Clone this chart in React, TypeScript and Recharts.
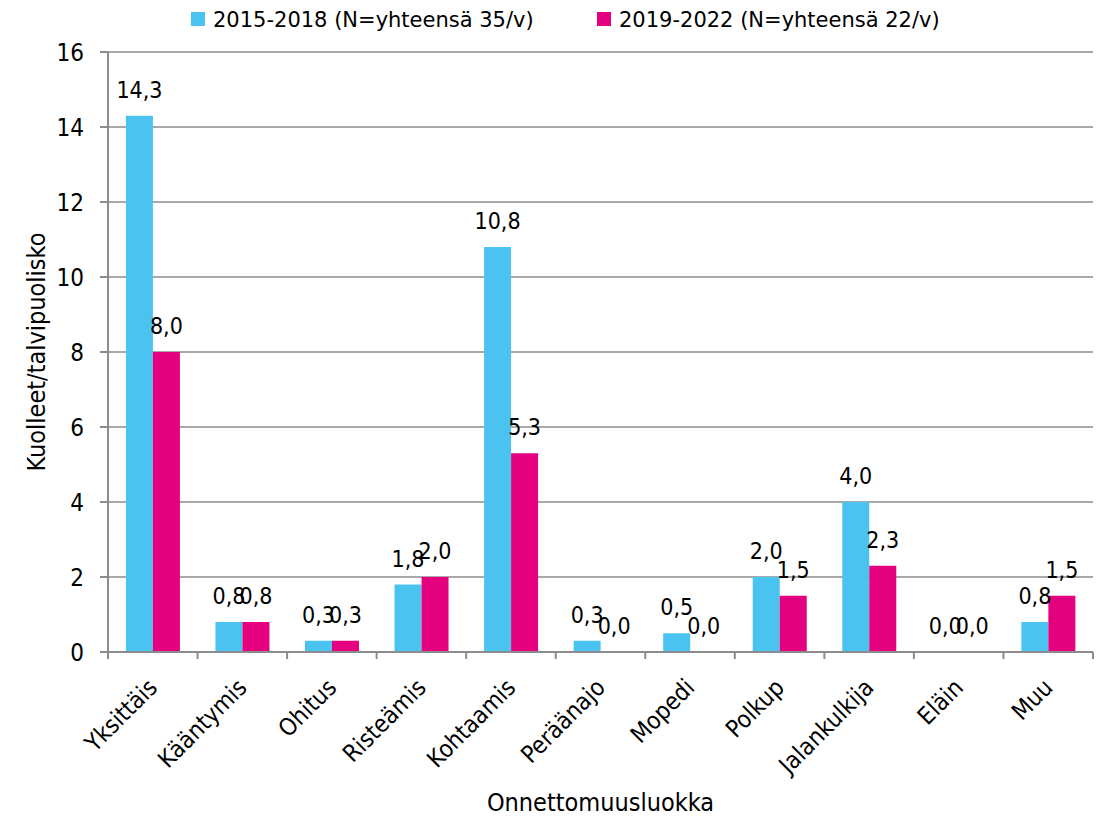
import React from 'react';
import {
  BarChart,
  Bar,
  XAxis,
  YAxis,
  CartesianGrid,
  LabelList,
} from 'recharts';

// Accident categories (x axis)
const categories = [
  'Yksittäis',
  'Kääntymis',
  'Ohitus',
  'Risteämis',
  'Kohtaamis',
  'Peräänajo',
  'Mopedi',
  'Polkup',
  'Jalankulkija',
  'Eläin',
  'Muu',
];

// Deaths per winter half-year, 2015-2018
const period1 = [14.3, 0.8, 0.3, 1.8, 10.8, 0.3, 0.5, 2.0, 4.0, 0.0, 0.8];
// Deaths per winter half-year, 2019-2022
const period2 = [8.0, 0.8, 0.3, 2.0, 5.3, 0.0, 0.0, 1.5, 2.3, 0.0, 1.5];

const seriesNames = ['2015-2018 (N=yhteensä 35/v)', '2019-2022 (N=yhteensä 22/v)'];
const yTicks = [0, 2, 4, 6, 8, 10, 12, 14, 16];

const xTitle = 'Onnettomuusluokka';
const yTitle = 'Kuolleet/talvipuolisko';

const BLUE = '#4BC3F0';
const PINK = '#E4007E';
const GRAY = '#8C8C8C';
const AXIS_FONT = "'DejaVu Sans Condensed', 'DejaVu Sans', sans-serif";
const LEGEND_FONT = "'DejaVu Sans', sans-serif";

const data = categories.map((name, i) => ({
  name,
  p1: period1[i],
  p2: period2[i],
}));

const fmt = (v: number) => v.toFixed(1).replace('.', ',');

// Category tick: boundary tick marks plus a rotated label
const CategoryTick = (props: any) => {
  const { x, y, payload, index, visibleTicksCount, width } = props;
  const half =
    payload && typeof payload.offset === 'number' && payload.offset > 0
      ? payload.offset
      : width / visibleTicksCount / 2;
  const tx = x + 6;
  const ty = y + 37;
  return (
    <g>
      <line x1={x - half} x2={x - half} y1={y} y2={y + 7} stroke={GRAY} strokeWidth={2} />
      {index === visibleTicksCount - 1 && (
        <line x1={x + half} x2={x + half} y1={y} y2={y + 7} stroke={GRAY} strokeWidth={2} />
      )}
      <text
        x={tx}
        y={ty}
        transform={`rotate(-45, ${tx}, ${ty})`}
        textAnchor="end"
        fontFamily={AXIS_FONT}
        fontSize={24}
        fill="#000"
      >
        {payload.value}
      </text>
    </g>
  );
};

const XTitle = (props: any) => {
  const vb = props.viewBox || {};
  return (
    <text
      x={vb.x + vb.width / 2}
      y={vb.y + 159}
      textAnchor="middle"
      fontFamily={AXIS_FONT}
      fontSize={25}
      fill="#000"
    >
      {xTitle}
    </text>
  );
};

const YTitle = (props: any) => {
  const vb = props.viewBox || {};
  const cx = vb.x + 8;
  const cy = vb.y + vb.height / 2;
  return (
    <text
      x={cx}
      y={cy}
      transform={`rotate(-90, ${cx}, ${cy})`}
      textAnchor="middle"
      dominantBaseline="central"
      fontFamily={AXIS_FONT}
      fontSize={25}
      fill="#000"
    >
      {yTitle}
    </text>
  );
};

const legendItems = [
  { label: seriesNames[0], color: BLUE, x: 191 },
  { label: seriesNames[1], color: PINK, x: 597 },
];

const labelStyle = { fontFamily: AXIS_FONT, fontSize: 23, fill: '#000' };

export default function App() {
  return (
    <div
      style={{
        position: 'absolute',
        left: 0,
        top: 0,
        width: 1104,
        height: 819,
        background: '#fff',
      }}
    >
      <svg
        width={1104}
        height={40}
        style={{ position: 'absolute', left: 0, top: 0 }}
      >
        {legendItems.map((it) => (
          <g key={it.label}>
            <rect x={it.x} y={12} width={14} height={14} fill={it.color} />
            <text
              x={it.x + 22}
              y={27}
              fontFamily={LEGEND_FONT}
              fontSize={21}
              fill="#000"
            >
              {it.label}
            </text>
          </g>
        ))}
      </svg>
      <BarChart
        width={1104}
        height={819}
        data={data}
        margin={{ top: 52, right: 11, bottom: 0, left: 28 }}
        barCategoryGap="20%"
        barGap={0}
      >
        <CartesianGrid vertical={false} stroke={GRAY} strokeWidth={1.5} />
        <XAxis
          dataKey="name"
          height={167}
          stroke={GRAY}
          strokeWidth={2}
          tickLine={false}
          tickSize={0}
          tickMargin={0}
          interval={0}
          tick={<CategoryTick />}
          label={<XTitle />}
        />
        <XAxis
          xAxisId="top"
          dataKey="name"
          orientation="top"
          height={0}
          stroke="#000"
          strokeWidth={2}
          tick={false}
          tickLine={false}
        />
        <YAxis
          width={80}
          domain={[0, 16]}
          ticks={yTicks}
          interval={0}
          stroke={GRAY}
          strokeWidth={2}
          tickSize={8}
          tickMargin={16}
          tick={{ fontFamily: AXIS_FONT, fontSize: 24, fill: '#000' }}
          label={<YTitle />}
        />
        <YAxis
          yAxisId="right"
          orientation="right"
          width={0}
          domain={[0, 16]}
          stroke="#000"
          strokeWidth={2}
          tick={false}
          tickLine={false}
        />
        <Bar
          dataKey="p1"
          name={seriesNames[0]}
          fill={BLUE}
          minPointSize={0.01}
          isAnimationActive={false}
        >
          <LabelList
            dataKey="p1"
            position="top"
            offset={18}
            formatter={(v: any) => fmt(Number(v))}
            style={labelStyle}
          />
        </Bar>
        <Bar
          dataKey="p2"
          name={seriesNames[1]}
          fill={PINK}
          minPointSize={0.01}
          isAnimationActive={false}
        >
          <LabelList
            dataKey="p2"
            position="top"
            offset={18}
            formatter={(v: any) => fmt(Number(v))}
            style={labelStyle}
          />
        </Bar>
      </BarChart>
    </div>
  );
}
